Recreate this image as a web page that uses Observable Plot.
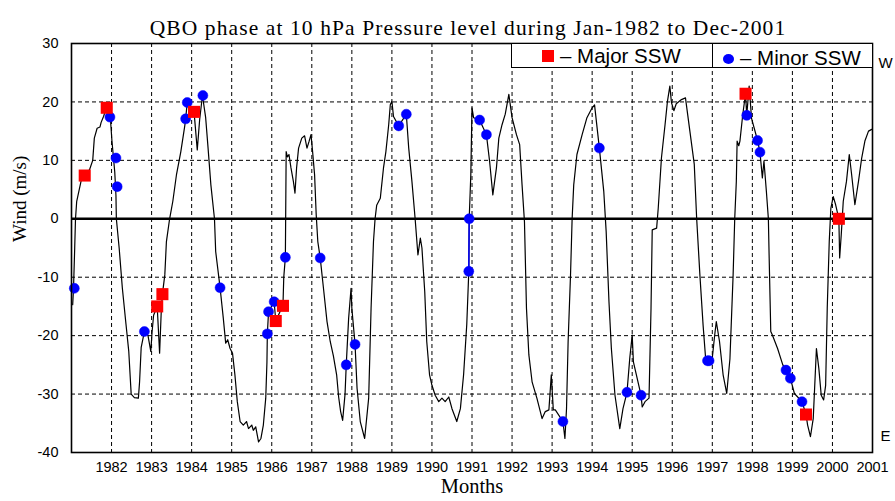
<!DOCTYPE html>
<html>
<head>
<meta charset="utf-8">
<script src="https://cdn.jsdelivr.net/npm/d3@7"></script>
<script src="https://cdn.jsdelivr.net/npm/@observablehq/plot@0.6"></script>
<style>
  html, body { margin: 0; padding: 0; background: #fff; }
  #wrap { position: relative; width: 895px; height: 501px; }
  .lg { position: absolute; top: 43px; height: 25px; box-sizing: border-box; border: 1px solid #000; background: #fff;
        font-family: "Liberation Sans", Arial, sans-serif; font-size: 20.5px; line-height: 25px; white-space: nowrap; }
  .sq { position: absolute; width: 12px; height: 12px; background: #ff0000; }
  .dt { position: absolute; width: 11px; height: 10px; border-radius: 50%; background: #0000ff; }
  .tx { position: absolute; }
</style>
</head>
<body>
<div id="wrap">
  <div id="chart"></div>
  <div class="lg" style="left:511px; width:202px;">
    <div class="sq" style="left:30px; top:6px;"></div>
    <div class="tx" style="left:48px; top:-1px;">– Major SSW</div>
  </div>
  <div class="lg" style="left:712px; width:161px;">
    <div class="dt" style="left:10px; top:10px;"></div>
    <div class="tx" style="left:27px; top:1px;">– Minor SSW</div>
  </div>
</div>
<script>
// QBO zonal wind at 10 hPa (m/s)
const qboTime = [1981.03,1981.05,1981.08,1981.10,1981.13,1981.24,1981.33,1981.45,1981.53,1981.57,1981.64,1981.71,1981.74,1981.80,1981.88,1981.93,1981.97,
  1982.01,1982.08,1982.11,1982.12,1982.19,1982.27,1982.36,1982.43,1982.49,1982.57,1982.67,1982.70,1982.74,1982.82,1982.91,1982.98,
  1983.01,1983.05,1983.14,1983.20,1983.24,1983.27,1983.33,1983.37,1983.45,1983.53,1983.62,1983.73,1983.83,1983.85,1983.89,1983.95,
  1984.06,1984.14,1984.20,1984.27,1984.35,1984.41,1984.48,1984.57,1984.60,1984.71,1984.79,1984.85,1984.90,1984.96,
  1985.02,1985.08,1985.14,1985.21,1985.29,1985.37,1985.42,1985.50,1985.54,1985.60,1985.67,1985.73,1985.79,1985.85,1985.88,1985.89,1985.92,
  1986.06,1986.10,1986.20,1986.28,1986.30,1986.34,1986.36,1986.39,1986.43,1986.48,1986.54,1986.58,1986.62,1986.67,1986.75,1986.82,1986.88,1986.93,1986.98,
  1987.02,1987.07,1987.11,1987.15,1987.21,1987.29,1987.38,1987.46,1987.54,1987.62,1987.67,1987.72,1987.77,1987.83,1987.86,1987.92,1987.98,
  1988.00,1988.08,1988.13,1988.21,1988.32,1988.42,1988.48,1988.54,1988.58,1988.62,1988.71,1988.79,1988.85,1988.92,1988.96,
  1989.00,1989.04,1989.17,1989.36,1989.42,1989.50,1989.58,1989.65,1989.71,1989.75,1989.82,1989.87,1989.94,
  1990.00,1990.08,1990.17,1990.25,1990.33,1990.42,1990.50,1990.62,1990.71,1990.79,1990.87,1990.92,1990.93,1990.97,
  1991.00,1991.04,1991.19,1991.36,1991.44,1991.52,1991.61,1991.67,1991.75,1991.83,1991.92,
  1992.00,1992.11,1992.19,1992.25,1992.31,1992.36,1992.42,1992.50,1992.62,1992.75,1992.83,1992.92,1992.98,
  1993.03,1993.08,1993.27,1993.32,1993.36,1993.40,1993.46,1993.50,1993.54,1993.62,1993.75,1993.87,
  1994.00,1994.06,1994.18,1994.29,1994.35,1994.42,1994.48,1994.57,1994.69,1994.77,1994.87,1994.94,
  1995.00,1995.03,1995.22,1995.25,1995.32,1995.42,1995.47,1995.50,1995.61,1995.65,1995.73,1995.82,1995.88,1995.94,1995.98,
  1996.04,1996.10,1996.23,1996.33,1996.44,1996.55,1996.61,1996.69,1996.77,1996.84,1996.90,
  1997.00,1997.06,1997.10,1997.18,1997.27,1997.36,1997.44,1997.52,1997.56,1997.60,1997.62,1997.66,1997.69,1997.76,1997.83,1997.86,1997.92,1997.98,
  1998.13,1998.19,1998.25,1998.29,1998.35,1998.40,1998.42,1998.46,1998.50,1998.63,1998.76,1998.84,1998.95,
  1999.05,1999.24,1999.34,1999.38,1999.45,1999.52,1999.60,1999.66,1999.72,1999.78,1999.83,1999.87,1999.92,1999.96,
  2000.02,2000.08,2000.16,2000.18,2000.22,2000.27,2000.35,2000.42,2000.48,2000.56,2000.65,2000.73,2000.81,2000.90,2000.98];
const qboWind = [-14.7,-12,-5,0,3,6.5,7.4,8.4,10,13.8,15.5,15.7,16.5,17.5,19.2,18.5,17.3,
  13.3,8,4,0,-5,-11.9,-18,-22.7,-30,-30.6,-30.7,-27.9,-22,-19.3,-20,-22.7,
  -19.5,-16.5,-15,-23,-16,-12.9,-9.6,-3.9,0,3,7.5,11.5,16,17.1,19.9,19.5,
  18.3,11.8,17,21.1,17.3,12.1,5.8,0,-5.6,-11.8,-17,-21.3,-20.7,-22.2,
  -23,-26.7,-31.3,-34.7,-35.3,-34.7,-35.9,-35.3,-36.2,-35.6,-38.2,-37.6,-35.3,-30.7,-24.5,-19.7,-15.9,
  -14.2,-17.5,-16,-14.9,-10,-6.6,11.5,10.6,11,8.7,6.4,4.4,8.7,12.1,13.8,14.2,12.1,13.2,14.4,
  11.5,7.5,0.7,-3.9,-6.7,-11.8,-17.6,-21,-23.5,-26.7,-30.5,-33,-34.5,-30,-25,-17,-11.9,
  -15.3,-21.5,-29,-34.7,-37.6,-30.7,-15.3,-3.9,0,2.3,3.5,8.7,11.5,16.1,19.5,
  20.1,17.5,15.9,17.9,12.1,6.4,0,-6.2,-3.3,-5,-12.5,-21,-26.7,
  -28.5,-30.2,-31.3,-30.7,-31.3,-30.5,-32.5,-34.7,-32.5,-26.7,-18,-9,0,7.5,
  19,17.3,16.9,14.4,9.8,4.1,8.7,13.8,16.1,17.9,21.3,
  17.3,14.4,12.7,5.8,-0.5,-15.3,-23.3,-27.9,-30.7,-34.2,-33,-32.7,-26.7,
  -32.7,-32.7,-34.7,-37.6,-32.5,-21,-9.6,0,5.8,11,14.4,17.3,
  19,19.5,12.1,4.7,-2.2,-14.2,-22.2,-30.2,-35.9,-32.5,-29.7,-23.8,
  -19.9,-24.5,-30.2,-32.2,-31.3,-30.7,-15.3,-1.9,-1.6,1.8,10.4,16.1,20.1,22.7,19.9,
  18.5,19.7,20.4,20.7,15,9.3,0,-9.6,-18.2,-24.5,-24.3,
  -23.8,-19.9,-17.6,-21,-26.7,-29.9,-24,-9.6,0,6.4,13.3,12.5,13.3,17.8,21.4,17.7,22.7,17.2,
  13.4,11.4,7,9.9,4.7,0,-6.7,-19.3,-19.9,-22.2,-25,-25.9,-27.3,
  -29.9,-31.3,-33.5,-35.3,-37.3,-34.2,-22.2,-25.6,-30.2,-31,-28.5,-15.3,-3.9,1.8,
  3.8,2.4,0,-6.7,-2.7,3,6.4,11,7.5,2.4,6.4,10.4,13.3,15,15.3];

// Major sudden stratospheric warmings
const majorTime = [1981.33,1981.88,1983.14,1983.27,1984.06,1986.10,1986.28,1997.83,1999.34,2000.16];
const majorWind = [7.4,19.0,-15.0,-12.9,18.3,-17.5,-14.9,21.4,-33.5,0.0];

// Minor sudden stratospheric warmings
const minorTime = [1981.07,1981.96,1982.11,1982.14,1982.82,1983.85,1983.89,1984.28,1984.71,1985.89,1985.92,1986.06,1986.34,
  1987.21,1987.86,1988.08,1989.17,1989.36,1990.92,1990.93,1991.19,1991.36,1993.27,1994.18,1994.87,1995.22,1996.88,1996.92,
  1997.86,1998.13,1998.19,1998.84,1998.95,1999.24];
const minorWind = [-11.9,17.4,10.4,5.5,-19.3,17.1,19.9,21.1,-11.8,-19.7,-15.9,-14.2,-6.6,
  -6.7,-25.0,-21.5,15.9,17.9,-9.0,0.0,16.9,14.4,-34.7,12.1,-29.7,-30.2,-24.3,-24.3,
  17.7,13.4,11.4,-25.9,-27.3,-31.3];

const xTicks = [1982,1983,1984,1985,1986,1987,1988,1989,1990,1991,1992,1993,1994,1995,1996,1997,1998,1999,2000,2001];
const xGrid = xTicks.slice(0, -1);
const yTicks = [30,20,10,0,-10,-20,-30,-40];
const yGrid = [20,10,-10,-20,-30];

const qbo = qboTime.map((t, i) => ({t, w: qboWind[i]}));
const major = majorTime.map((t, i) => ({t, w: majorWind[i]}));
const minor = minorTime.map((t, i) => ({t, w: minorWind[i]}));
const minorJump = minor.filter(d => d.t > 1990.9 && d.t < 1990.95);

const serif = "'Liberation Serif', 'Times New Roman', serif";

const chart = Plot.plot({
  width: 895,
  height: 501,
  marginTop: 43,
  marginRight: 23,
  marginBottom: 49,
  marginLeft: 71,
  x: {domain: [1981, 2001]},
  y: {domain: [-40, 30]},
  style: {fontFamily: "'Liberation Sans', Arial, sans-serif", fontSize: "14.5px", color: "#000", background: "#fff"},
  marks: [
    Plot.gridX(xGrid, {stroke: "#000", strokeOpacity: 1, strokeWidth: 1, strokeDasharray: "4,3"}),
    Plot.gridY(yGrid, {stroke: "#000", strokeOpacity: 1, strokeWidth: 1, strokeDasharray: "4,3"}),
    Plot.ruleY([0], {stroke: "#000", strokeWidth: 2.6}),
    Plot.line(qbo, {x: "t", y: "w", stroke: "#000", strokeWidth: 1.2, curve: "linear"}),
    Plot.line(minorJump, {x: "t", y: "w", stroke: "#0000ff", strokeWidth: 1.5}),
    Plot.dot(minor, {x: "t", y: "w", r: 5, fill: "#0000ff", stroke: "#0000ff", strokeWidth: 0.5}),
    Plot.dot(major, {x: "t", y: "w", symbol: "square", r: 6.8, fill: "#ff0000"}),
    Plot.frame({stroke: "#000", strokeWidth: 1.6}),
    Plot.axisX(xTicks, {tickSize: 0, tickPadding: 9, tickFormat: d => String(d), label: null, fontSize: 14.5}),
    Plot.axisY(yTicks, {tickSize: 0, tickPadding: 13, tickFormat: d => String(d), label: null, fontSize: 14.5}),
    Plot.text(["QBO phase at 10 hPa Pressure level during Jan-1982 to Dec-2001"], {frameAnchor: "top", dx: -4, dy: -24, fontSize: 21.5, fontFamily: serif, fill: "#000", style: "letter-spacing: 1.1px"}),
    Plot.text(["Months"], {frameAnchor: "bottom", dy: 40, fontSize: 20.5, fontFamily: serif, fill: "#000"}),
    Plot.text(["Wind (m/s)"], {frameAnchor: "left", dx: -52, dy: -6, rotate: -90, fontSize: 19, fontFamily: serif, fill: "#000"}),
    Plot.text(["W"], {frameAnchor: "top-right", dx: 13, dy: 14, fontSize: 15, textAnchor: "middle", fill: "#000"}),
    Plot.text(["E"], {frameAnchor: "bottom-right", dx: 13, dy: -12, fontSize: 15, textAnchor: "middle", fill: "#000"})
  ]
});
// widen the title's letter spacing to match the reference's wide title
chart.querySelectorAll("text").forEach(t => {
  if (t.textContent.startsWith("QBO phase")) t.setAttribute("letter-spacing", "1.1");
});
document.getElementById("chart").appendChild(chart);
</script>
</body>
</html>
